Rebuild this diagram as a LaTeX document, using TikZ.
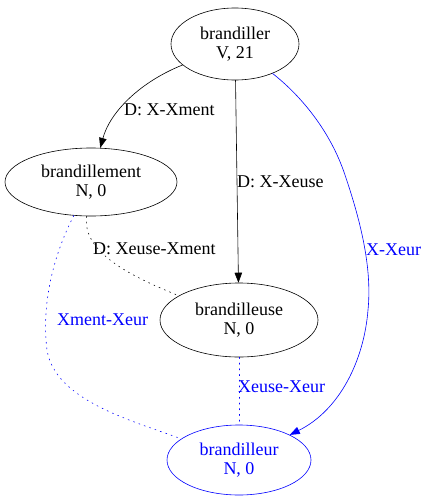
\documentclass[tikz,border=0pt]{standalone}
\usepackage{fontspec}
\setmainfont{Liberation Serif}
\usetikzlibrary{arrows.meta,shapes.geometric}
\begin{document}
\begin{tikzpicture}[line cap=round,line join=round,>={Triangle[length=10pt,width=7.5pt]},x=1pt,y=-1pt,
  font=\fontsize{18}{19.5}\selectfont,
  word/.style={ellipse,draw,semithick,inner sep=0pt,align=center},
  lab/.style={anchor=west,inner sep=0pt},
  dots/.style={dash pattern=on 1.2pt off 4.5pt,semithick}]
\useasboundingbox (0,0) rectangle (428,501);
\node[word,minimum width=128,minimum height=72] (ller) at (235,44) {brandiller\\V, 21};
\node[word,minimum width=172,minimum height=68] (ment) at (91,182) {brandillement\\N, 0};
\node[word,minimum width=158,minimum height=74] (euse) at (239,320) {brandilleuse\\N, 0};
\node[word,blue,minimum width=144,minimum height=70] (leur) at (239,460) {brandilleur\\N, 0};
% derivations
\draw[->,semithick] (ller) .. controls (140,82) and (110,112) .. (ment);
\node[lab] (l1) at (124,110) {D: X-Xment};
\draw[->,semithick] (ller) -- (euse);
\node[lab] (l2) at (237,182) {D: X-Xeuse};
\draw[->,semithick,blue] (ller) .. controls (300,95) and (330,130) .. (345,175)
  .. controls (362,225) and (372,270) .. (368,310)
  .. controls (364,360) and (340,410) .. (leur);
\node[lab,blue] (l3) at (366,250) {X-Xeur};
% dotted links
\draw[dots] (ment) .. controls (82,252) and (130,276) .. (euse);
\node[lab] (l4) at (93,249) {D: Xeuse-Xment};
\draw[dots,blue] (ment) .. controls (50,262) and (42,310) .. (47,350)
  .. controls (55,400) and (130,420) .. (leur);
\node[lab,blue] (l5) at (57,320) {Xment-Xeur};
\draw[dots,blue] (euse) -- (leur);
\node[lab,blue] (l6) at (238,387) {Xeuse-Xeur};
\end{tikzpicture}
\end{document}
